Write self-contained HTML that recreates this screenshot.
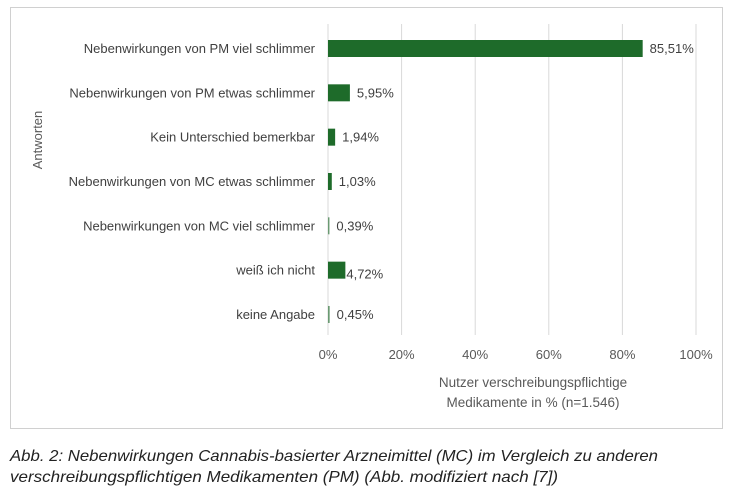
<!DOCTYPE html>
<html><head><meta charset="utf-8"><style>
body{margin:0;background:#fff;width:738px;height:498px;overflow:hidden}
svg{display:block;font-family:"Liberation Sans",sans-serif}
</style></head><body>
<svg id="chart" width="738" height="498" viewBox="0 0 738 498">
<rect x="10.5" y="7.5" width="712" height="421" fill="#fff" stroke="#d0d0d0"/>
<g id="grid"></g><g id="bars"></g><g id="labels"></g>
<text transform="translate(42,140) rotate(-90)" text-anchor="middle" font-size="13" fill="#595959">Antworten</text>
<text x="533" y="387" text-anchor="middle" font-size="13.5" fill="#595959">Nutzer verschreibungspflichtige</text>
<text x="533" y="407" text-anchor="middle" font-size="13.5" fill="#595959">Medikamente in % (n=1.546)</text>
<text x="10" y="461" font-size="16" font-style="italic" fill="#222" textLength="648" lengthAdjust="spacingAndGlyphs">Abb. 2: Nebenwirkungen Cannabis-basierter Arzneimittel (MC) im Vergleich zu anderen</text>
<text x="10" y="482" font-size="16" font-style="italic" fill="#222" textLength="548" lengthAdjust="spacingAndGlyphs">verschreibungspflichtigen Medikamenten (PM) (Abb. modifiziert nach [7])</text>
</svg>
<script>
const categories=["Nebenwirkungen von PM viel schlimmer","Nebenwirkungen von PM etwas schlimmer","Kein Unterschied bemerkbar","Nebenwirkungen von MC etwas schlimmer","Nebenwirkungen von MC viel schlimmer","weiß ich nicht","keine Angabe"];
const values=[85.51,5.95,1.94,1.03,0.39,4.72,0.45];
const valueLabels=["85,51%","5,95%","1,94%","1,03%","0,39%","4,72%","0,45%"];
const ticks=[0,20,40,60,80,100];
const tickLabels=["0%","20%","40%","60%","80%","100%"];
const NS="http://www.w3.org/2000/svg";
const x=v=>328+v*(696-328)/100;
const y=i=>48.5+i*44.33;
function mk(t,a,p){const e=document.createElementNS(NS,t);for(const k in a)e.setAttribute(k,a[k]);document.getElementById(p).appendChild(e);return e;}
ticks.forEach((t,i)=>{
 const l=mk("line",{x1:x(t),x2:x(t),y1:24,y2:335,stroke:"#d9d9d9","stroke-width":1},"grid");
 
 
 const tx=mk("text",{x:x(t),y:359,"text-anchor":"middle","font-size":13,fill:"#595959"},"labels");
 tx.textContent=tickLabels[i];
 
 
});
categories.forEach((c,i)=>{
 const w=Math.max(x(values[i])-x(0),1);
 const r=mk("rect",{x:x(0),y:y(i)-8.5,width:w,height:17,fill:values[i]<0.5?"#6a9a72":"#1e6b2a"},"bars");
 
 
 const cl=mk("text",{x:315,y:y(i)+4.5,"text-anchor":"end","font-size":13,fill:"#404040"},"labels");
 cl.textContent=c;
 
 
 const vl=mk("text",{x:x(values[i])+(i===5?1:7),y:y(i)+4.5+(i===5?4:0),"font-size":13,fill:"#404040"},"labels");
 vl.textContent=valueLabels[i];
 
 
});
</script>
</body></html>
